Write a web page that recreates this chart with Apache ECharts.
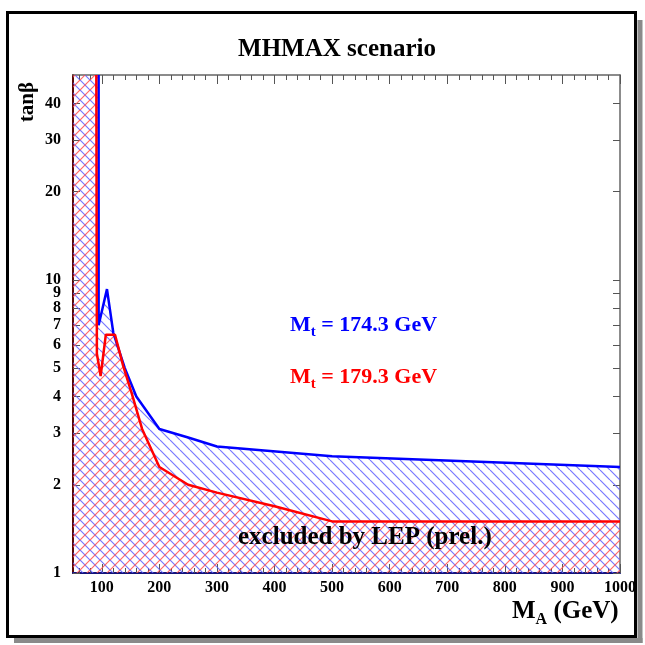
<!DOCTYPE html>
<html><head><meta charset="utf-8">
<script src="https://cdn.jsdelivr.net/npm/echarts@6/dist/echarts.min.js"></script>
<style>html,body{margin:0;padding:0;background:#fff}#c{width:645px;height:645px}</style>
</head><body><div id="c"></div>
<script>
// ---- data ----
const blueMA   = [94.5, 94.5, 109, 120, 140, 160, 200, 250, 300, 500, 1000];
const blueTanB = [50, 7.0, 9.3, 6.6, 5.0, 4.0, 3.1, 2.9, 2.7, 2.5, 2.3];
const redMA    = [90.5, 91.5, 98, 107, 123, 137, 152, 170, 200, 250, 300, 400, 500, 1000];
const redTanB  = [50, 5.6, 4.7, 6.5, 6.5, 5.1, 4.1, 3.1, 2.3, 2.0, 1.88, 1.69, 1.5, 1.5];
const xTickLabels = [100, 200, 300, 400, 500, 600, 700, 800, 900, 1000];
const yTickLabels = [1, 2, 3, 4, 5, 6, 7, 8, 9, 10, 20, 30, 40];
const xMin = 50, xMax = 1000, yMin = 1, yMax = 50;
const xMinorTicks = [];
for (let v = 60; v < xMax; v += 20) if (v % 100 !== 0) xMinorTicks.push(v);

const zip = (a, b) => a.map((v, i) => [v, b[i]]);
const blueLine = zip(blueMA, blueTanB);
const redLine = zip(redMA, redTanB);
const blueArea = [[xMin, yMax]].concat(blueLine);
const redArea = [[xMin, yMax]].concat(redLine);

function hatch(color, back) {
  const s = 10, c = document.createElement('canvas');
  c.width = s; c.height = s;
  const g = c.getContext('2d');
  g.strokeStyle = color; g.lineWidth = 1.2;
  g.beginPath();
  for (const k of [-s, 0, s]) {
    if (!back) { g.moveTo(k, 0); g.lineTo(k + s, s); }
    else { g.moveTo(k + s, 0); g.lineTo(k, s); }
  }
  g.stroke();
  return { image: c, repeat: 'repeat' };
}

const serif = 'Liberation Serif';
const lab = { fontFamily: serif, fontWeight: 'bold', fontSize: 16, color: '#000', formatter: v => String(Math.round(v)) };

const chart = echarts.init(document.getElementById('c'), null, { renderer: 'canvas' });
chart.setOption({
  backgroundColor: '#fff',
  animation: false,
  grid: { left: 73, right: 25, top: 75, bottom: 72, containLabel: false, outerBoundsMode: 'none' },
  xAxis: [
    { type: 'value', min: xMin, max: xMax, position: 'bottom',
      axisLine: { lineStyle: { color: '#14147a', width: 2 } },
      axisTick: { inside: true, length: 9, customValues: xTickLabels, lineStyle: { color: '#555' } },
      axisLabel: Object.assign({ customValues: xTickLabels, margin: 7 }, lab),
      splitLine: { show: false } },
    { type: 'value', min: xMin, max: xMax, position: 'bottom',
      axisLine: { show: false },
      axisTick: { inside: true, length: 5, customValues: xMinorTicks, lineStyle: { color: '#555' } },
      axisLabel: { show: false }, splitLine: { show: false } },
    { type: 'value', min: xMin, max: xMax, position: 'top',
      axisLine: { lineStyle: { color: '#666', width: 1.5 } },
      axisTick: { inside: true, length: 9, customValues: xTickLabels, lineStyle: { color: '#555' } },
      axisLabel: { show: false }, splitLine: { show: false } },
    { type: 'value', min: xMin, max: xMax, position: 'top',
      axisLine: { show: false },
      axisTick: { inside: true, length: 5, customValues: xMinorTicks, lineStyle: { color: '#555' } },
      axisLabel: { show: false }, splitLine: { show: false } }
  ],
  yAxis: [
    { type: 'log', logBase: 10, min: yMin, max: yMax, position: 'left',
      axisLine: { show: true, lineStyle: { color: '#5a0a0a', width: 2 } },
      axisTick: { show: true, inside: true, length: 7, customValues: yTickLabels, lineStyle: { color: '#555' } },
      axisLabel: Object.assign({ customValues: yTickLabels, margin: 12 }, lab),
      splitLine: { show: false }, minorTick: { show: false } },
    { type: 'log', logBase: 10, min: yMin, max: yMax, position: 'right',
      axisLine: { show: true, lineStyle: { color: '#666', width: 1.5 } },
      axisTick: { show: true, inside: true, length: 7, customValues: yTickLabels, lineStyle: { color: '#555' } },
      axisLabel: { show: false }, splitLine: { show: false } }
  ],
  series: [
    { type: 'line', name: 'area174', data: blueArea, symbol: 'none', z: 2,
      lineStyle: { width: 0 }, areaStyle: { color: hatch('#6060ff', false), opacity: 0.85 } },
    { type: 'line', name: 'area179', data: redArea, symbol: 'none', z: 3,
      lineStyle: { width: 0 }, areaStyle: { color: hatch('#ff5050', true), opacity: 0.85 } },
    { type: 'line', name: 'Mt=174.3', data: blueLine, symbol: 'none', z: 4,
      lineStyle: { color: '#0000ff', width: 2.5 } },
    { type: 'line', name: 'Mt=179.3', data: redLine, symbol: 'none', z: 5,
      lineStyle: { color: '#ff0000', width: 2.5 } }
  ],
  graphic: [
    { type: 'rect', shape: { x: 637.5, y: 20, width: 5, height: 623 }, style: { fill: '#8a8a8a' }, silent: true },
    { type: 'rect', shape: { x: 14, y: 638, width: 628.5, height: 5 }, style: { fill: '#8a8a8a' }, silent: true },
    { type: 'rect', shape: { x: 7.5, y: 12.5, width: 628, height: 624 }, style: { fill: 'none', stroke: '#000', lineWidth: 3 }, silent: true },
    { type: 'text', x: 337, y: 50, style: { text: 'MHMAX scenario', font: 'bold 25px "Liberation Serif"', fill: '#000', align: 'center', verticalAlign: 'middle' } },
    { type: 'text', x: 28, y: 102, rotation: Math.PI / 2, style: { text: 'tanβ', font: 'bold 21px "Liberation Serif"', fill: '#000', align: 'center', verticalAlign: 'middle' } },
    { type: 'text', x: 512, y: 612, style: { text: '{m|M}{s|A}{m| (GeV)}', fill: '#000', align: 'left', verticalAlign: 'middle',
        rich: { m: { font: 'bold 25px "Liberation Serif"', fill: '#000' }, s: { font: 'bold 16px "Liberation Serif"', fill: '#000', padding: [16, 0, 0, 0] } } } },
    { type: 'text', x: 290, y: 325, z: 10, style: { text: '{m|M}{s|t}{m| = 174.3 GeV}', fill: '#0000ff', align: 'left', verticalAlign: 'middle',
        rich: { m: { font: 'bold 22px "Liberation Serif"', fill: '#0000ff' }, s: { font: 'bold 15px "Liberation Serif"', fill: '#0000ff', padding: [14, 0, 0, 0] } } } },
    { type: 'text', x: 290, y: 377, z: 10, style: { text: '{m|M}{s|t}{m| = 179.3 GeV}', fill: '#ff0000', align: 'left', verticalAlign: 'middle',
        rich: { m: { font: 'bold 22px "Liberation Serif"', fill: '#ff0000' }, s: { font: 'bold 15px "Liberation Serif"', fill: '#ff0000', padding: [14, 0, 0, 0] } } } },
    { type: 'text', x: 238, y: 538, z: 10, style: { text: 'excluded by LEP (prel.)', font: 'bold 25px "Liberation Serif"', fill: '#000', align: 'left', verticalAlign: 'middle' } }
  ]
});
</script></body></html>
